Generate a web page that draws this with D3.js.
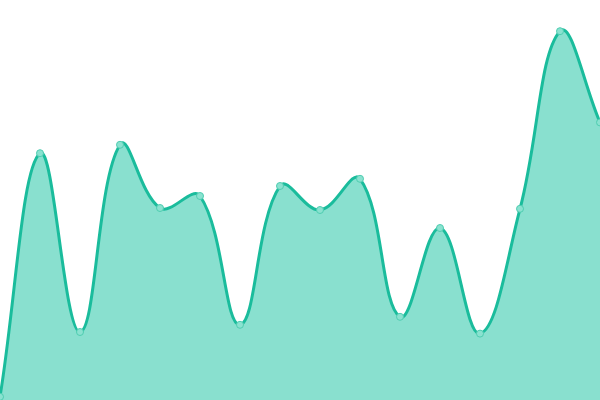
<!DOCTYPE html>
<html>
<head>
<meta charset="utf-8">
<script src="https://cdn.jsdelivr.net/npm/d3@7"></script>
<style>
html,body{margin:0;padding:0;background:#fff;overflow:hidden;}
svg{display:block;}
</style>
</head>
<body>
<svg id="chart" width="600" height="400"></svg>
<script>
const categories = ["1","2","3","4","5","6","7","8","9","10","11","12","13","14","15","16"];
const values = [0.8, 61.7, 17, 63.8, 48, 51, 18.8, 53.5, 47.5, 55.3, 20.8, 43, 16.6, 47.8, 92.2, 69.4];

const W = 600, H = 400;
const svg = d3.select("#chart");
const x = d3.scalePoint().domain(categories).range([0, W]);
const y = d3.scaleLinear().domain([0, 100]).range([H, 0]);

const data = categories.map((c, i) => ({c, v: values[i]}));

// Distance-weighted spline curve (tension-based) as a custom d3 curve
function SplineCurve(context, tension) { this._context = context; this._t = tension; }
SplineCurve.prototype = {
  areaStart() { this._line = 0; },
  areaEnd() { this._line = NaN; },
  lineStart() { this._pts = []; },
  point(px, py) { this._pts.push([+px, +py]); },
  lineEnd() {
    const p = this._pts, n = p.length, ctx = this._context, t = this._t;
    if (n) {
      this._line ? ctx.lineTo(p[0][0], p[0][1]) : ctx.moveTo(p[0][0], p[0][1]);
      const cps = p.map((cur, i) => {
        const prev = p[Math.max(0, i - 1)], next = p[Math.min(n - 1, i + 1)];
        const d01 = Math.hypot(cur[0] - prev[0], cur[1] - prev[1]);
        const d12 = Math.hypot(next[0] - cur[0], next[1] - cur[1]);
        let s01 = d01 / (d01 + d12), s12 = d12 / (d01 + d12);
        if (!isFinite(s01)) s01 = 0; if (!isFinite(s12)) s12 = 0;
        const fa = t * s01, fb = t * s12;
        const vx = next[0] - prev[0], vy = next[1] - prev[1];
        const cl = v => Math.max(0, Math.min(H, v)), cx = v => Math.max(0, Math.min(W, v));
        return {
          px: cx(cur[0] - fa * vx), py: cl(cur[1] - fa * vy),
          nx: cx(cur[0] + fb * vx), ny: cl(cur[1] + fb * vy)
        };
      });
      for (let i = 1; i < n; i++) {
        ctx.bezierCurveTo(cps[i - 1].nx, cps[i - 1].ny, cps[i].px, cps[i].py, p[i][0], p[i][1]);
      }
    }
    if (this._line || (this._line !== 0 && n === 1)) ctx.closePath();
    this._line = 1 - this._line;
  }
};
const curve = ctx => new SplineCurve(ctx, 0.4);

svg.append("path")
  .datum(data)
  .attr("fill", "#89e0cf")
  .attr("d", d3.area().x(d => x(d.c)).y0(y(0)).y1(d => y(d.v)).curve(curve));

svg.append("path")
  .datum(data)
  .attr("fill", "none")
  .attr("stroke", "#1abc9c")
  .attr("stroke-width", 3)
  .attr("d", d3.line().x(d => x(d.c)).y(d => y(d.v)).curve(curve));

svg.selectAll("circle.pt")
  .data(data)
  .join("circle")
  .attr("class", "pt")
  .attr("cx", d => x(d.c))
  .attr("cy", d => y(d.v))
  .attr("r", 3.5)
  .attr("fill", "#8ae2d0")
  .attr("stroke", "#4fcdb1")
  .attr("stroke-width", 1);
</script>
</body>
</html>
